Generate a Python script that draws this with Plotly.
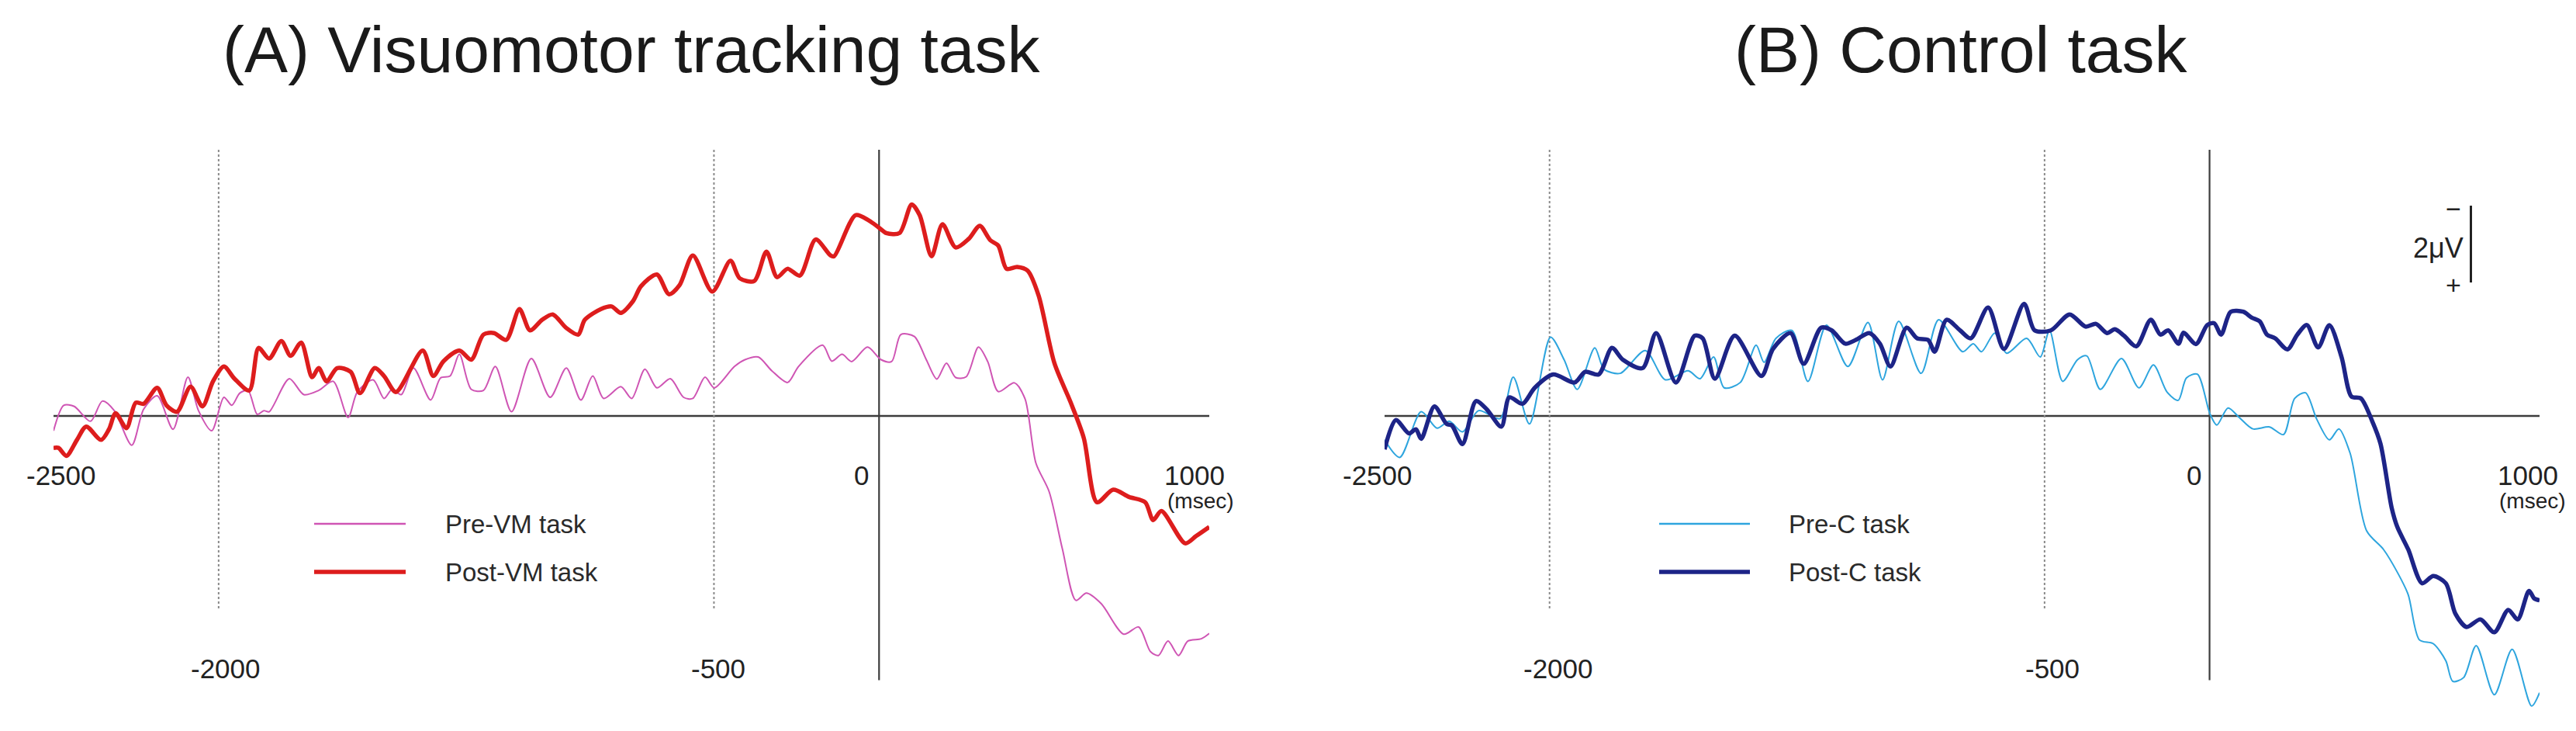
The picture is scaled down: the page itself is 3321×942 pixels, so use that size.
import plotly.graph_objects as go

W, H = 3321, 942

# ---- data: time (msec) and amplitude (uV, negative plotted upward) ----
post_vm_t = [-2500, -2485, -2461, -2429, -2401, -2356, -2332, -2312, -2279, -2251, -2227, -2186,
             -2158, -2126, -2085, -2049, -2017, -1984, -1952, -1907, -1879, -1847, -1810, -1782,
             -1750, -1717, -1697, -1673, -1641, -1600, -1572, -1527, -1499, -1463, -1382, -1350,
             -1319, -1271, -1235, -1198, -1166, -1129, -1089, -1057, -1020, -988, -948, -911,
             -891, -842, -810, -782, -745, -721, -673, -636, -604, -564, -505, -450, -422, -378,
             -341, -309, -277, -240, -192, -147, -136, -71, -31, 0, 22, 62, 99, 123, 159, 192,
             232, 272, 305, 337, 361, 386, 418, 450, 483, 531, 580, 620, 660, 709, 757, 806,
             830, 855, 927, 960, 1000]
post_vm_v = [0.84, 0.84, 1.05, 0.63, 0.28, 0.63, 0.35, -0.07, 0.32, -0.35, -0.32, -0.74,
             -0.28, -0.11, -0.77, -0.25, -0.91, -1.30, -0.98, -0.67, -1.79, -1.51, -1.97, -1.58,
             -1.93, -1.02, -1.26, -0.91, -1.26, -1.16, -0.60, -1.26, -1.05, -0.63, -1.72, -1.05,
             -1.44, -1.72, -1.48, -2.14, -2.18, -2.00, -2.81, -2.25, -2.53, -2.67, -2.32, -2.14,
             -2.53, -2.81, -2.88, -2.71, -3.02, -3.41, -3.72, -3.20, -3.44, -4.22, -3.27, -4.08,
             -3.62, -3.55, -4.32, -3.65, -3.87, -3.69, -4.64, -4.22, -4.20, -5.28, -5.14, -4.95,
             -4.81, -4.81, -5.56, -5.28, -4.20, -5.04, -4.43, -4.66, -5.00, -4.62, -4.48, -3.87,
             -3.92, -3.82, -3.17, -1.39, -0.36, 0.58, 2.27, 1.94, 2.13, 2.27, 2.74, 2.50, 3.35,
             3.16, 2.92]

pre_vm_t = [-2500, -2469, -2437, -2388, -2352, -2316, -2263, -2227, -2186, -2138, -2093, -2061,
            -2021, -1984, -1960, -1936, -1911, -1883, -1863, -1847, -1786, -1742, -1697, -1653,
            -1608, -1580, -1532, -1499, -1475, -1447, -1410, -1358, -1328, -1299, -1271, -1235,
            -1198, -1162, -1113, -1053, -996, -947, -903, -867, -834, -782, -749, -709, -673,
            -632, -592, -564, -527, -499, -438, -406, -366, -325, -277, -244, -171, -143, -112,
            -83, -35, 6, 38, 66, 107, 143, 175, 204, 232, 264, 301, 329, 361, 410, 442, 475, 515,
            555, 596, 628, 673, 741, 786, 822, 846, 875, 907, 935, 976, 1000]
pre_vm_v = [0.39, -0.28, -0.25, 0.14, -0.39, -0.14, 0.77, -0.18, -0.53, 0.35, -1.02, -0.14,
            0.39, -0.49, -0.28, -0.60, -0.67, -0.04, -0.14, -0.11, -0.98, -0.56, -0.67, -0.91,
            0.04, -0.63, -0.95, -0.46, -0.70, -0.56, -1.26, -0.42, -1.00, -1.05, -1.62, -0.70,
            -0.67, -1.30, -0.11, -1.51, -0.49, -1.26, -0.42, -1.05, -0.46, -0.77, -0.46, -1.23,
            -0.74, -0.98, -0.49, -0.46, -1.02, -0.74, -1.30, -1.48, -1.55, -1.19, -0.88, -1.30,
            -1.86, -1.44, -1.62, -1.43, -1.81, -1.48, -1.43, -2.14, -2.09, -1.48, -0.97, -1.39,
            -1.01, -1.03, -1.81, -1.43, -0.64, -0.87, -0.45, 1.24, 1.99, 3.49, 4.85, 4.66, 4.94,
            5.74, 5.55, 6.20, 6.30, 5.92, 6.30, 5.92, 5.86, 5.72]

post_c_t = [-2500, -2466, -2426, -2405, -2389, -2349, -2312, -2296, -2264, -2223, -2191, -2146,
            -2122, -2082, -2045, -1989, -1924, -1892, -1851, -1811, -1778, -1718, -1677, -1617,
            -1560, -1536, -1499, -1439, -1358, -1323, -1270, -1230, -1177, -1145, -1104, -1072,
            -1031, -999, -967, -918, -886, -853, -833, -797, -756, -724, -671, -623, -562, -530,
            -481, -424, -376, -344, -311, -287, -259, -222, -178, -149, -125, -94, -79, -41, -7,
            14, 35, 64, 102, 127, 152, 174, 199, 236, 266, 295, 329, 363, 400, 430, 459, 493,
            518, 552, 569, 602, 644, 678, 716, 745, 779, 821, 863, 905, 934, 968, 984, 1000]
post_c_v = [0.88, 0.11, 0.46, 0.35, 0.60, -0.25, 0.21, 0.25, 0.74, -0.39, -0.18, 0.28,
            -0.49, -0.32, -0.74, -1.09, -0.88, -1.16, -1.09, -1.79, -1.48, -1.26, -2.18, -0.88,
            -2.11, -2.04, -0.98, -2.11, -1.05, -1.76, -2.18, -1.37, -2.32, -2.25, -1.90, -2.00,
            -2.18, -1.90, -1.30, -2.32, -2.04, -2.00, -1.69, -2.53, -2.25, -2.04, -2.85, -1.76,
            -2.95, -2.25, -2.25, -2.67, -2.35, -2.42, -2.18, -2.28, -2.11, -1.83, -2.53, -2.14,
            -2.25, -1.90, -2.19, -1.89, -2.39, -2.44, -2.14, -2.74, -2.74, -2.59, -2.49, -2.14,
            -2.04, -1.75, -2.14, -2.39, -1.80, -2.39, -1.55, -0.51, -0.46, 0.14, 0.73, 2.42,
            2.92, 3.51, 4.40, 4.21, 4.40, 5.20, 5.55, 5.35, 5.69, 5.10, 5.35, 4.60, 4.80, 4.85]

pre_c_t = [-2500, -2454, -2389, -2341, -2304, -2264, -2215, -2150, -2110, -2061, -1997, -1956,
           -1916, -1863, -1835, -1786, -1710, -1649, -1580, -1544, -1503, -1471, -1422, -1374,
           -1350, -1314, -1266, -1217, -1161, -1096, -1035, -991, -942, -874, -821, -748, -716,
           -691, -651, -615, -554, -513, -485, -445, -400, -372, -331, -267, -214, -170, -129,
           -95, -70, -37, 1, 22, 56, 90, 131, 182, 224, 258, 291, 325, 363, 392, 426, 476, 527,
           569, 602, 636, 678, 716, 737, 770, 808, 863, 917, 976, 1000]
pre_c_v = [0.63, 1.09, -0.11, 0.32, 0.14, 0.42, -0.14, 0.07, -1.02, 0.21, -2.07, -1.48,
           -0.70, -1.79, -1.23, -1.12, -1.72, -0.95, -1.19, -0.98, -1.55, -0.74, -0.88, -1.86,
           -1.41, -2.04, -2.25, -0.91, -2.39, -1.30, -2.46, -0.95, -2.49, -1.12, -2.53, -1.69,
           -1.90, -1.69, -2.18, -1.65, -2.04, -1.55, -2.25, -0.91, -1.48, -1.58, -0.70, -1.51,
           -0.74, -1.34, -0.63, -0.41, -1.00, -1.10, -0.06, 0.24, -0.21, 0.04, 0.34, 0.29, 0.49,
           -0.46, -0.61, 0.09, 0.63, 0.34, 0.98, 3.02, 3.51, 4.11, 4.70, 5.89, 5.99, 6.44, 6.98,
           6.88, 6.04, 7.33, 6.14, 7.63, 7.28]

titles = ["(A) Visuomotor tracking task", "(B) Control task"]
legend_names = [["Pre-VM task", "Post-VM task"], ["Pre-C task", "Post-C task"]]

FONT = "Liberation Sans, Arial, Helvetica, sans-serif"
ZERO_PX, UV_PX = 528, 49          # zero line row, pixels per microvolt
y_range = [(H - ZERO_PX) / UV_PX, -ZERO_PX / UV_PX]   # reversed: negative up

fig = go.Figure()

panels = [
    dict(xa="x", ya="y", dom=[61, 1551], title_x=806,
         pre=(pre_vm_t, pre_vm_v, "#cf55b4"), post=(post_vm_t, post_vm_v, "#dd1d1d"),
         leg_x=(397, 515, 564),
         shifts={"-2500": 10, "0": -11, "1000": -19, "msec": -11, "-2000": 9, "-500": 6}),
    dict(xa="x2", ya="y2", dom=[1777, 3266], title_x=2520,
         pre=(pre_c_t, pre_c_v, "#2ea5de"), post=(post_c_t, post_c_v, "#1d2487"),
         leg_x=(2131, 2248, 2296),
         shifts={"-2500": -9, "0": -9, "1000": -15, "msec": -9, "-2000": 11, "-500": 10}),
]

shapes, annots = [], []
for i, p in enumerate(panels):
    xr, yr = p["xa"], p["ya"]
    # curves
    for (t, v, c), w, nm in [(p["pre"], 2, legend_names[i][0]), (p["post"], 5.5, legend_names[i][1])]:
        fig.add_trace(go.Scatter(x=t, y=v, mode="lines", name=nm, xaxis=xr, yaxis=yr,
                                 line=dict(color=c, width=w, shape="spline", smoothing=0.8),
                                 showlegend=False))
    # baseline, onset line and dotted guides
    shapes.append(dict(type="line", xref=xr, yref=yr, x0=-2500, x1=1000, y0=0, y1=0,
                       line=dict(color="#3c3c3c", width=2.5), layer="below"))
    shapes.append(dict(type="line", xref=xr, yref=yr, x0=0, x1=0, y0=-7.0, y1=6.95,
                       line=dict(color="#3c3c3c", width=2.2), layer="below"))
    for gx in (-2000, -500):
        shapes.append(dict(type="line", xref=xr, yref=yr, x0=gx, x1=gx, y0=-7.0, y1=5.1,
                           line=dict(color="#8a8a8a", width=2, dash="dot"), layer="below"))
    # title
    annots.append(dict(text=titles[i], xref="paper", yref="paper", x=p["title_x"] / W,
                       y=1 - 56 / H, xanchor="center", yanchor="middle", showarrow=False,
                       font=dict(family=FONT, size=84, color="#1a1a1a")))
    # axis labels
    s = p["shifts"]
    tick_y = (604 - ZERO_PX) / UV_PX
    low_y = (853 - ZERO_PX) / UV_PX
    for txt, xv, yv, anc in [("-2500", -2500, tick_y, "center"),
                             ("0", 0, tick_y, "right"),
                             ("1000", 1000, tick_y, "center"),
                             ("-2000", -2000, low_y, "center"),
                             ("-500", -500, low_y, "center")]:
        annots.append(dict(text=txt, xref=xr, yref=yr, x=xv, y=yv, xanchor=anc, yanchor="middle",
                           xshift=s[txt], showarrow=False,
                           font=dict(family=FONT, size=35, color="#222")))
    annots.append(dict(text="(msec)", xref=xr, yref=yr, x=1000, y=(637 - ZERO_PX) / UV_PX,
                       xanchor="center", yanchor="middle", xshift=s["msec"], showarrow=False,
                       font=dict(family=FONT, size=28, color="#222")))
    # legend drawn by hand
    lx0, lx1, tx = p["leg_x"]
    for (name, row, col, w) in [(legend_names[i][0], 667, p["pre"][2], 2.5),
                                (legend_names[i][1], 729, p["post"][2], 5.5)]:
        shapes.append(dict(type="line", xref="paper", yref="paper", x0=lx0 / W, x1=lx1 / W,
                           y0=1 - row / H, y1=1 - row / H, line=dict(color=col, width=w)))
        annots.append(dict(text=name, xref="paper", yref="paper", x=tx / W, y=1 - row / H,
                           xanchor="left", yanchor="middle", showarrow=False,
                           font=dict(family=FONT, size=33, color="#2a2a2a")))

# 2 uV calibration bar (panel B)
shapes.append(dict(type="line", xref="x2", yref="y2", x0=792, x1=792, y0=-5.53, y1=-3.51,
                   line=dict(color="#222", width=3)))
annots.append(dict(text="2\u03bcV", xref="x2", yref="y2", x=775, y=-4.41, xanchor="right",
                   yanchor="middle", showarrow=False, font=dict(family=FONT, size=36, color="#222")))
annots.append(dict(text="\u2212", xref="x2", yref="y2", x=740, y=-5.45, xanchor="center",
                   yanchor="middle", showarrow=False, font=dict(family=FONT, size=34, color="#222")))
annots.append(dict(text="+", xref="x2", yref="y2", x=740, y=-3.45, xanchor="center",
                   yanchor="middle", showarrow=False, font=dict(family=FONT, size=34, color="#222")))

ax_common = dict(visible=False, showgrid=False, zeroline=False, fixedrange=True)
fig.update_layout(
    width=W, height=H, margin=dict(l=0, r=0, t=0, b=0),
    paper_bgcolor="white", plot_bgcolor="white", showlegend=False,
    xaxis=dict(domain=[panels[0]["dom"][0] / W, panels[0]["dom"][1] / W], range=[-2500, 1000],
               anchor="y", **ax_common),
    xaxis2=dict(domain=[panels[1]["dom"][0] / W, panels[1]["dom"][1] / W], range=[-2500, 1000],
                anchor="y2", **ax_common),
    yaxis=dict(domain=[0, 1], range=y_range, anchor="x", **ax_common),
    yaxis2=dict(domain=[0, 1], range=y_range, anchor="x2", **ax_common),
    shapes=shapes, annotations=annots,
)

fig.write_html("out.html")
